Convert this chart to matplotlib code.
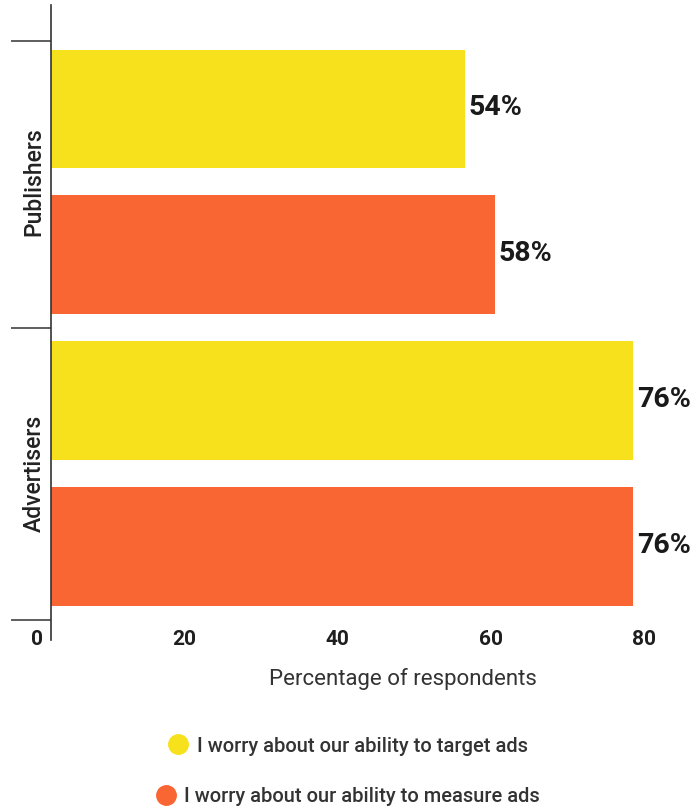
import numpy as np
from matplotlib import pyplot as plt
from matplotlib.lines import Line2D
from matplotlib.transforms import ScaledTranslation

plt.rcParams['font.family'] = ['Roboto', 'DejaVu Sans']

groups = ["Publishers", "Advertisers"]
target = [54, 76]
measure = [58, 76]
series_names = ["I worry about our ability to target ads",
                "I worry about our ability to measure ads"]
colors = ["#F6E11C", "#FA6534"]
x_ticks = [0, 20, 40, 60, 80]

fig = plt.figure(figsize=(6.93, 8.07), dpi=100)
ax = fig.add_axes([51 / 693, 1 - 640 / 807, (664 - 51) / 693, 635 / 807])

idx = np.arange(len(groups))
for k, vals in enumerate([target, measure]):
    pos = idx * 2 + k
    ax.barh(pos, vals, height=0.81, color=colors[k], label=series_names[k])
    for p, v in zip(pos, vals):
        ax.text(v + 0.45, p - 0.01, f"{v}%", va='center', ha='left',
                fontsize=20.5, fontweight='bold', color='#1a1a1a')

ax.set_xlim(0, 80)
ax.set_ylim(3.64, -0.71)

# x axis: labels only, no line, labels sit left of their tick
ax.set_xticks(x_ticks)
ax.set_xticklabels([str(t) for t in x_ticks], ha='right')
ax.tick_params(axis='x', length=0, pad=-7.5, labelsize=15, labelcolor='#1e1e1e')
shift = ScaledTranslation(-8 / 100, 0, fig.dpi_scale_trans)
for lab in ax.get_xticklabels():
    lab.set_fontweight('bold')
    lab.set_transform(lab.get_transform() + shift)
ax.set_xlabel("Percentage of respondents", fontsize=16, color='#333333')
ax.xaxis.set_label_coords(0.574, -0.044)

# y axis: group separators + rotated group names
ax.set_yticks([-0.46, 1.5, 3.5])
ax.set_yticklabels([])
ax.tick_params(axis='y', which='major', length=29, width=1.1, color='#333333')
ax.set_yticks([0.5, 2.5], minor=True)
ax.set_yticklabels(groups, minor=True, rotation=90, va='center',
                   fontsize=16.5, fontweight='medium', color='#222222')
ax.tick_params(axis='y', which='minor', length=0, pad=4)

for s in ['top', 'right', 'bottom']:
    ax.spines[s].set_visible(False)
ax.spines['left'].set_color('#333333')
ax.spines['left'].set_linewidth(1.2)

# legend entries are each centred under the chart
legend_y = [746, 797]
for name, c, y in zip(series_names, colors, legend_y):
    h = Line2D([], [], marker='o', linestyle='none', markersize=14,
               markerfacecolor=c, markeredgecolor=c)
    leg = fig.legend([h], [name], loc='center', frameon=False,
                     bbox_to_anchor=(347 / 693, 1 - y / 807), fontsize=14.5,
                     handletextpad=0.3, handlelength=1.2, labelcolor='#333333',
                     borderpad=0, borderaxespad=0)
    for t in leg.get_texts():
        t.set_fontweight('medium')

fig.savefig("out.png", dpi=100)
